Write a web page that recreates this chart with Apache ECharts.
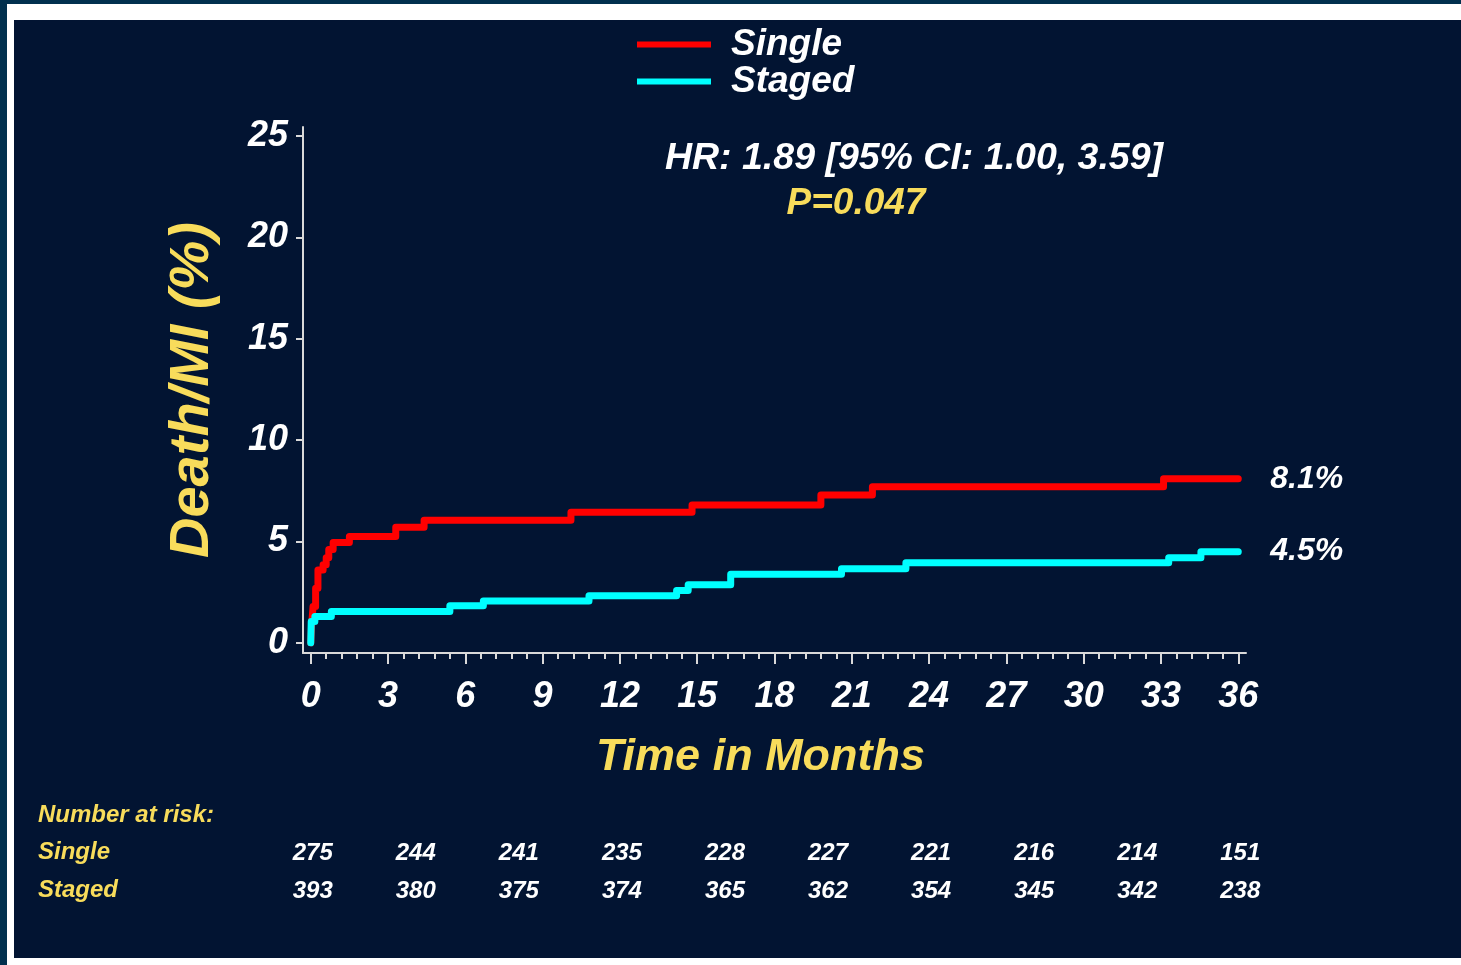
<!DOCTYPE html>
<html>
<head>
<meta charset="utf-8">
<script src="https://cdn.jsdelivr.net/npm/echarts@6/dist/echarts.min.js"></script>
<style>
  html, body { margin: 0; padding: 0; width: 1461px; height: 965px; overflow: hidden; background: #01304e; }
  #frame { position: absolute; left: 7px; top: 4px; width: 1454px; height: 961px; background: #ffffff; }
  #panel { position: absolute; left: 14px; top: 20px; width: 1447px; height: 938px; background: #021432; }
  #chart { position: absolute; left: 0; top: 0; width: 1461px; height: 965px; }
</style>
</head>
<body>
<div id="frame"></div>
<div id="panel"></div>
<div id="chart"></div>
<script>
// Kaplan–Meier style cumulative Death/MI (%), months since procedure
const seriesNames = ['Single', 'Staged'];

const singleMonths = [0, 0.03, 0.09, 0.19, 0.28, 0.48, 0.6, 0.7, 0.87, 1.5, 3.3, 4.4, 10.1, 14.8, 19.8, 21.8, 33.1, 36];
const singleRates  = [0, 0.8, 1.8, 2.7, 3.6, 3.85, 4.2, 4.6, 4.95, 5.25, 5.7, 6.05, 6.45, 6.8, 7.3, 7.7, 8.1, 8.1];

const stagedMonths = [0, 0.02, 0.16, 0.8, 5.4, 6.7, 10.8, 14.2, 14.65, 16.3, 20.6, 23.1, 33.3, 34.55, 36];
const stagedRates  = [0, 1.05, 1.3, 1.55, 1.83, 2.07, 2.32, 2.58, 2.87, 3.39, 3.66, 3.95, 4.2, 4.5, 4.5];

// Number-at-risk table
const riskRows = ['Single', 'Staged'];
const riskMonths = [0, 4, 8, 12, 16, 20, 24, 28, 32, 36];
const riskSingle = [275, 244, 241, 235, 228, 227, 221, 216, 214, 151];
const riskStaged = [393, 380, 375, 374, 365, 362, 354, 345, 342, 238];

// Axis ticks
const xMajorTicks = [0, 3, 6, 9, 12, 15, 18, 21, 24, 27, 30, 33, 36];
const yTicks = [0, 5, 10, 15, 20, 25];

const FONT = '"Liberation Sans", Arial, Helvetica, sans-serif';
const YELLOW = '#f8dc5b';
const AXIS = '#d9d9d9';

const zip = (xs, ys) => xs.map((x, i) => [x, ys[i]]);

// minor ticks: five subdivisions between major ticks
const xMinorTicks = [];
for (let i = 0; i <= 60; i++) {
  if (i % 5 !== 0) xMinorTicks.push(Math.round(i * 0.6 * 100) / 100);
}

const boldItalic = (size, color) => ({
  color: color, fontSize: size, fontWeight: 'bold', fontStyle: 'italic', fontFamily: FONT
});

const endLabel = {
  show: true,
  formatter: p => p.value[1].toFixed(1) + '%',
  distance: 32,
  ...boldItalic(32, '#ffffff')
};

const riskLabel = {
  show: true, position: 'inside', offset: [2, 1],
  formatter: p => String(p.value[2]),
  ...boldItalic(24, '#ffffff')
};

const chart = echarts.init(document.getElementById('chart'), null, { renderer: 'canvas' });

chart.setOption({
  backgroundColor: 'transparent',
  animation: false,
  legend: {
    data: seriesNames,
    orient: 'vertical',
    left: 637,
    top: 26,
    padding: 0,
    itemGap: 0,
    itemWidth: 74,
    itemHeight: 6,
    icon: 'rect',
    selectedMode: false,
    textStyle: { ...boldItalic(37, '#ffffff'), lineHeight: 25, padding: [6, 0, 0, 15] }
  },
  grid: [
    { left: 303, right: 215, top: 127, bottom: 312 },
    { left: 303, right: 215, top: 833, bottom: 56 }
  ],
  xAxis: [
    {
      gridIndex: 0, type: 'value', min: -0.3, max: 36.3, position: 'bottom',
      axisLine: { show: true, onZero: false, lineStyle: { color: AXIS, width: 2 } },
      axisTick: { show: true, customValues: xMajorTicks, length: 11, lineStyle: { color: AXIS, width: 2 } },
      axisLabel: { customValues: xMajorTicks, margin: 26, ...boldItalic(36, '#ffffff') },
      splitLine: { show: false },
      name: 'Time in Months',
      nameLocation: 'middle',
      nameGap: 82,
      nameTextStyle: { ...boldItalic(45, YELLOW), padding: [0, 28, 0, 0] }
    },
    {
      gridIndex: 0, type: 'value', min: -0.3, max: 36.3, position: 'bottom', offset: 0,
      axisLine: { show: false, onZero: false },
      axisTick: { show: true, customValues: xMinorTicks, length: 6, lineStyle: { color: AXIS, width: 2 } },
      axisLabel: { show: false },
      splitLine: { show: false }
    },
    {
      gridIndex: 1, type: 'value', min: -0.3, max: 36.3, show: false
    }
  ],
  yAxis: [
    {
      gridIndex: 0, type: 'value', min: -0.5, max: 25.45,
      axisLine: { show: true, onZero: false, lineStyle: { color: AXIS, width: 2 } },
      axisTick: { show: true, customValues: yTicks, length: 7, lineStyle: { color: AXIS, width: 2 } },
      axisLabel: { customValues: yTicks, margin: 15, ...boldItalic(36, '#ffffff') },
      splitLine: { show: false },
      name: 'Death/MI (%)',
      nameLocation: 'middle',
      nameGap: 82,
      nameTextStyle: boldItalic(56, YELLOW)
    },
    {
      gridIndex: 1, type: 'category', data: riskRows, inverse: true,
      axisLine: { show: false }, axisTick: { show: false }, splitLine: { show: false },
      axisLabel: { align: 'left', margin: 265, ...boldItalic(24, YELLOW) }
    }
  ],
  graphic: [
    {
      type: 'text', x: 914, y: 159, silent: true,
      style: {
        text: 'HR: 1.89 [95% CI: 1.00, 3.59]', fill: '#ffffff',
        font: 'italic bold 37.5px ' + FONT,
        align: 'center', verticalAlign: 'middle', textAlign: 'center', textVerticalAlign: 'middle'
      }
    },
    {
      type: 'text', x: 856, y: 204, silent: true,
      style: {
        text: 'P=0.047', fill: YELLOW,
        font: 'italic bold 37px ' + FONT,
        align: 'center', verticalAlign: 'middle', textAlign: 'center', textVerticalAlign: 'middle'
      }
    },
    {
      type: 'text', x: 38, y: 815, silent: true,
      style: {
        text: 'Number at risk:', fill: YELLOW,
        font: 'italic bold 24px ' + FONT,
        align: 'left', verticalAlign: 'middle', textAlign: 'left', textVerticalAlign: 'middle'
      }
    }
  ],
  series: [
    {
      name: 'Single', type: 'line', step: 'end',
      xAxisIndex: 0, yAxisIndex: 0,
      data: zip(singleMonths, singleRates),
      showSymbol: false, silent: true,
      itemStyle: { color: '#ff0000' },
      lineStyle: { color: '#ff0000', width: 7, cap: 'round', join: 'round' },
      endLabel: endLabel
    },
    {
      name: 'Staged', type: 'line', step: 'end',
      xAxisIndex: 0, yAxisIndex: 0,
      data: zip(stagedMonths, stagedRates),
      showSymbol: false, silent: true,
      itemStyle: { color: '#00ffff' },
      lineStyle: { color: '#00ffff', width: 7, cap: 'round', join: 'round' },
      endLabel: endLabel
    },
    {
      type: 'scatter', xAxisIndex: 2, yAxisIndex: 1, silent: true,
      symbolSize: 0.1, itemStyle: { color: 'transparent', opacity: 1 },
      data: riskMonths.map((m, i) => [m, 0, riskSingle[i]]),
      label: riskLabel
    },
    {
      type: 'scatter', xAxisIndex: 2, yAxisIndex: 1, silent: true,
      symbolSize: 0.1, itemStyle: { color: 'transparent', opacity: 1 },
      data: riskMonths.map((m, i) => [m, 1, riskStaged[i]]),
      label: riskLabel
    }
  ]
});
</script>
</body>
</html>
